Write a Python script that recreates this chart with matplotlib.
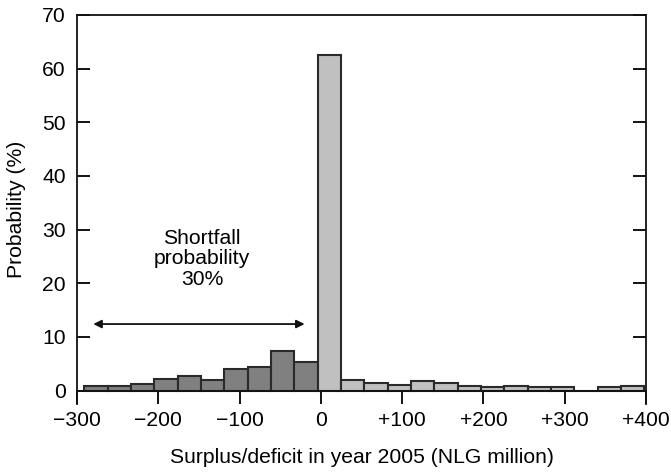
import numpy as np
import matplotlib
matplotlib.use("Agg")
import matplotlib.pyplot as plt

plt.rcParams['font.family'] = ['Liberation Sans', 'DejaVu Sans']

# Data
bin_start = -291.0
bin_width = 28.71
shortfall_heights = [0.93, 0.93, 1.18, 2.1, 2.67, 2.05, 4.1, 4.35, 7.4, 5.35]
zero_height = [62.6]
surplus_heights = [2.05, 1.5, 1.1, 1.7, 1.35, 0.93, 0.75, 0.93, 0.75, 0.75, 0.0, 0.6, 0.87]
x_ticks = [-300, -200, -100, 0, 100, 200, 300, 400]
x_tick_labels = ["\u2212300", "\u2212200", "\u2212100", "0", "+100", "+200", "+300", "+400"]
y_ticks = [0, 10, 20, 30, 40, 50, 60, 70]

FS = 15.2

fig = plt.figure(figsize=(6.71, 4.73), dpi=100)
ax = fig.add_axes([0.1148, 0.1459, 0.8479, 0.8224])

n_short = len(shortfall_heights)
lefts_short = bin_start + bin_width * np.arange(n_short)
lefts_zero = bin_start + bin_width * (n_short + np.arange(1))
lefts_surp = bin_start + bin_width * (n_short + 1 + np.arange(len(surplus_heights)))

ec = '#2a2a2a'
ax.bar(lefts_short, shortfall_heights, width=bin_width, align='edge',
       color='#808080', edgecolor=ec, linewidth=1.5, zorder=2)
ax.bar(lefts_zero, zero_height, width=bin_width, align='edge',
       color='#c0c0c0', edgecolor=ec, linewidth=1.5, zorder=2)
ax.bar(lefts_surp, surplus_heights, width=bin_width, align='edge',
       color='#c0c0c0', edgecolor=ec, linewidth=1.5, zorder=2)

ax.set_xlim(-300, 400)
ax.set_ylim(-2.5, 70)

ax.spines['bottom'].set_position(('data', 0))
ax.spines['bottom'].set_zorder(3)
for s in ['left', 'right', 'top', 'bottom']:
    ax.spines[s].set_linewidth(1.3)
    ax.spines[s].set_color('#111111')

ax.set_xticks(x_ticks)
ax.set_xticklabels(x_tick_labels)
ax.set_yticks(y_ticks)
ax.tick_params(axis='x', direction='out', length=9.4, width=1.3, labelsize=FS, pad=5)
ax.tick_params(axis='y', direction='in', length=9.4, width=1.3, labelsize=FS,
               right=True, pad=8)

ax.set_xlabel("Surplus/deficit in year 2005 (NLG million)", fontsize=FS, labelpad=13)
ax.set_ylabel("Probability (%)", fontsize=FS, labelpad=12)

ax.annotate("", xy=(-280, 12.4), xytext=(-20, 12.4),
            arrowprops=dict(arrowstyle='<|-|>', color='#111111', lw=1.3,
                            mutation_scale=12, shrinkA=0, shrinkB=0))
ax.text(-146, 24.6, "Shortfall\nprobability\n30%", ha='center', va='center',
        fontsize=FS, linespacing=1.1)

fig.savefig("out.png", dpi=100)
